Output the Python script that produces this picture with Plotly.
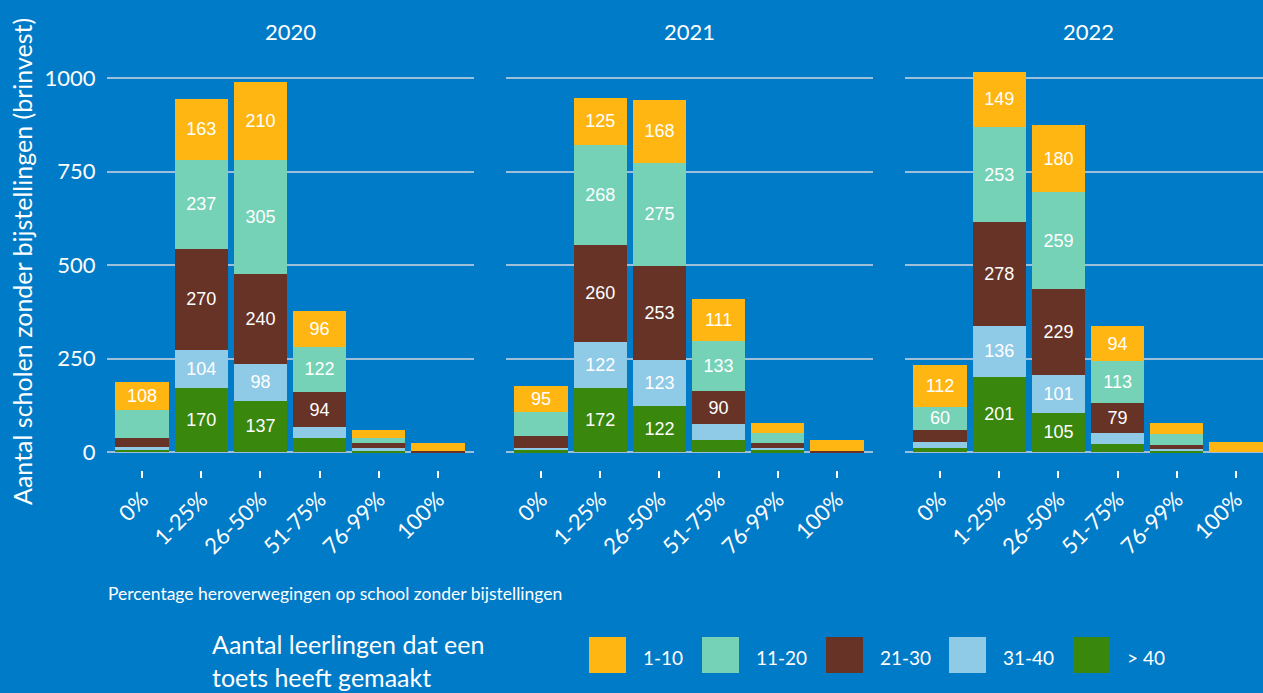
import plotly.graph_objects as go

categories = ["0%", "1-25%", "26-50%", "51-75%", "76-99%", "100%"]
years = ["2020", "2021", "2022"]
groups = ["1-10", "11-20", "21-30", "31-40", "> 40"]
colors = ["#FFB612", "#76D2B6", "#673327", "#8FCAE7", "#39870C"]

# segment heights per year, per group (order: 1-10, 11-20, 21-30, 31-40, >40)
values_2020 = [
    [73, 163, 210, 96, 21, 21],
    [76, 237, 305, 122, 13, 0],
    [24, 270, 240, 94, 13, 3],
    [7, 104, 98, 29, 8, 0],
    [6, 170, 137, 37, 4, 0],
]
values_2021 = [
    [70, 125, 168, 111, 28, 29],
    [64, 268, 275, 133, 27, 0],
    [31, 260, 253, 90, 12, 3],
    [6, 122, 123, 43, 6, 0],
    [5, 172, 122, 31, 5, 0],
]
values_2022 = [
    [112, 149, 180, 94, 29, 26],
    [60, 253, 259, 113, 28, 0],
    [33, 278, 229, 79, 11, 0],
    [15, 136, 101, 30, 7, 0],
    [12, 201, 105, 21, 2, 0],
]

# labels printed in the segments (as shown in the chart)
labels_2020 = [
    [108, 163, 210, 96, None, None],
    [None, 237, 305, 122, None, None],
    [None, 270, 240, 94, None, None],
    [None, 104, 98, None, None, None],
    [None, 170, 137, None, None, None],
]
labels_2021 = [
    [95, 125, 168, 111, None, None],
    [None, 268, 275, 133, None, None],
    [None, 260, 253, 90, None, None],
    [None, 122, 123, None, None, None],
    [None, 172, 122, None, None, None],
]
labels_2022 = [
    [112, 149, 180, 94, None, None],
    [60, 253, 259, 113, None, None],
    [None, 278, 229, 79, None, None],
    [None, 136, 101, None, None, None],
    [None, 201, 105, None, None, None],
]

y_ticks = [0, 250, 500, 750, 1000]

all_values = [values_2020, values_2021, values_2022]
all_labels = [labels_2020, labels_2021, labels_2022]

BG = "#007BC7"
GRID = "#9DBFDB"
W, H = 1263, 693

fig = go.Figure()

for yi, year in enumerate(years):
    xa = "x" if yi == 0 else f"x{yi+1}"
    ya = "y" if yi == 0 else f"y{yi+1}"
    # bottom of stack first
    for gi in reversed(range(len(groups))):
        txt = ["" if v is None else str(v) for v in all_labels[yi][gi]]
        fig.add_trace(go.Bar(
            x=categories, y=all_values[yi][gi], name=groups[gi],
            marker=dict(color=colors[gi], line=dict(width=0)),
            width=0.9, text=txt, textposition="inside",
            insidetextanchor="middle", constraintext="none",
            textfont=dict(family="Liberation Sans, Arial", size=18, color="white"),
            xaxis=xa, yaxis=ya, showlegend=False, hoverinfo="skip",
        ))

def px_x(p):
    return p / W

def px_y(p):
    return (H - p) / H

x_domains = [
    [px_x(106.5), px_x(473.5)],
    [px_x(505.5), px_x(872.5)],
    [px_x(904.5), 1.0],
]
x_ranges = [[-0.6, 5.6], [-0.6, 5.6], [-0.6, 5.456]]
y_domain = [px_y(470), px_y(51.8)]
y_range = [-48, 1070]

tickfont = dict(family="Lato, Open Sans", size=22, color="white")

layout = dict(
    width=W, height=H,
    margin=dict(l=0, r=0, t=0, b=0),
    paper_bgcolor=BG, plot_bgcolor=BG,
    barmode="stack",
    showlegend=False,
)
for i in range(3):
    sx = "" if i == 0 else str(i + 1)
    layout["xaxis" + sx] = dict(
        domain=x_domains[i], range=x_ranges[i], type="category",
        categoryorder="array", categoryarray=categories,
        anchor="y" + sx, showgrid=False, zeroline=False, showline=False,
        ticks="outside", ticklen=7, tickwidth=2, tickcolor="white",
        tickangle=-45, tickfont=tickfont, fixedrange=True,
    )
    layout["yaxis" + sx] = dict(
        domain=y_domain, range=y_range, anchor="x" + sx,
        tickvals=y_ticks, showticklabels=(i == 0),
        showgrid=True, gridcolor=GRID, gridwidth=2,
        zeroline=True, zerolinecolor=GRID, zerolinewidth=2,
        showline=False, ticks="", tickfont=tickfont,
        ticklabelstandoff=10, fixedrange=True,
    )
fig.update_layout(**layout)

annotations = []
# facet strip titles
for i, year in enumerate(years):
    d = x_domains[i]
    if i == 2:
        xc = px_x(904.5 + 183.5)
    else:
        xc = (d[0] + d[1]) / 2
    annotations.append(dict(
        text=year, x=xc, y=px_y(31), xref="paper", yref="paper",
        xanchor="center", yanchor="middle", showarrow=False,
        font=dict(family="Lato, Open Sans", size=22, color="white"),
    ))

# y-axis title
annotations.append(dict(
    text="Aantal scholen zonder bijstellingen (brinvest)",
    x=px_x(22), y=px_y(262), xref="paper", yref="paper",
    xanchor="center", yanchor="middle", textangle=-90, showarrow=False,
    font=dict(family="Lato, Open Sans", size=25, color="white"),
))

# x-axis title
annotations.append(dict(
    text="Percentage heroverwegingen op school zonder bijstellingen",
    x=px_x(106), y=px_y(593), xref="paper", yref="paper",
    xanchor="left", yanchor="middle", showarrow=False,
    font=dict(family="Lato, Open Sans", size=17.5, color="white"),
))

# legend title
annotations.append(dict(
    text="Aantal leerlingen dat een<br>toets heeft gemaakt",
    x=px_x(210), y=px_y(627), xref="paper", yref="paper",
    xanchor="left", yanchor="top", align="left", showarrow=False,
    font=dict(family="Lato, Open Sans", size=25, color="white"),
))

# custom legend
legend_x = [589, 702, 826, 949, 1073]
shapes = []
for gi, g in enumerate(groups):
    x0 = legend_x[gi]
    shapes.append(dict(
        type="rect", xref="paper", yref="paper",
        x0=px_x(x0), x1=px_x(x0 + 37), y0=px_y(673), y1=px_y(637),
        fillcolor=colors[gi], line=dict(width=0),
    ))
    annotations.append(dict(
        text=g, x=px_x(x0 + 52), y=px_y(657), xref="paper", yref="paper",
        xanchor="left", yanchor="middle", showarrow=False,
        font=dict(family="Lato, Open Sans", size=19, color="white"),
    ))

fig.update_layout(annotations=annotations, shapes=shapes)

fig.write_html(
    "out.html",
    config={"displayModeBar": False},
    post_script="document.body.style.margin='0';document.body.style.overflow='hidden';",
)
